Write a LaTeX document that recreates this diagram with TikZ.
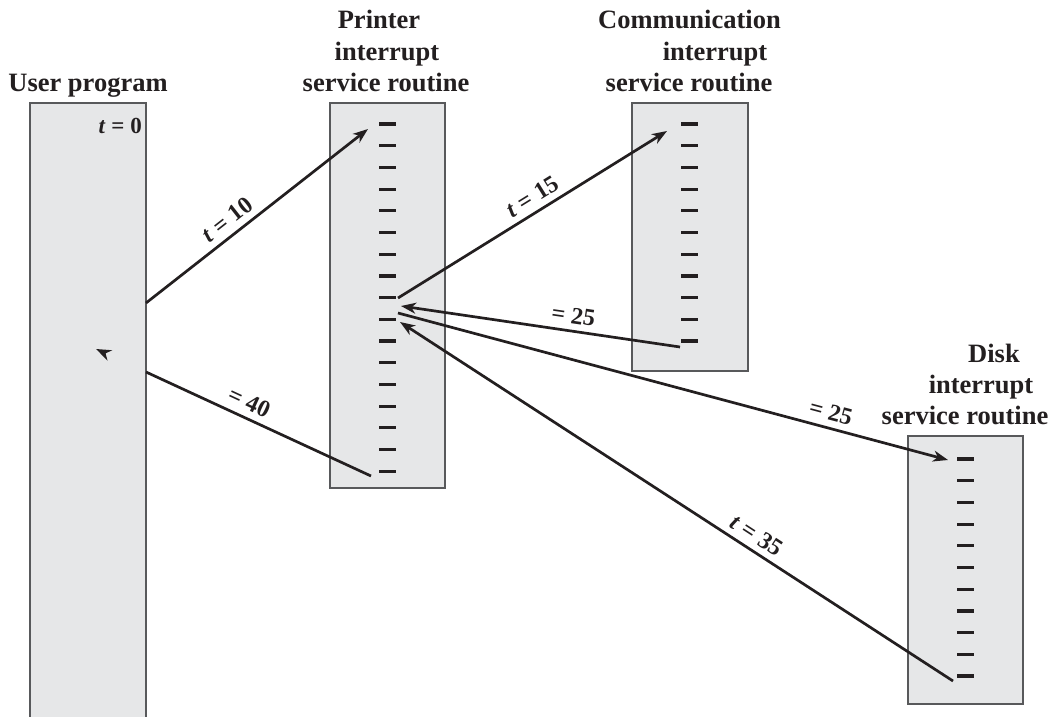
\documentclass[tikz,border=0pt]{standalone}
\usepackage{fontspec}
\setmainfont{Liberation Serif}
\usetikzlibrary{arrows.meta,calc}
\definecolor{ink}{HTML}{231F20}
\definecolor{boxfill}{HTML}{E6E7E8}
\definecolor{boxline}{HTML}{58595B}
\begin{document}
\begin{tikzpicture}[x=1pt,y=-1pt,
  boxst/.style={draw=boxline, fill=boxfill, line width=1.3pt},
  tick/.style={line width=3.2pt, draw=ink},
  conn/.style={line width=2.7pt, draw=ink},
  arr/.style={conn, -{Stealth[length=15pt,width=11pt,inset=4.5pt]}},
  title/.style={font=\fontsize{26.5}{30}\selectfont\bfseries, text=ink, inner sep=0pt, anchor=base},
  lab/.style={font=\fontsize{24}{26}\selectfont\bfseries, text=ink, sloped, above=3pt, inner sep=3pt}
]
\useasboundingbox (0,0) rectangle (1057,717);

% boxes
\fill[boxfill] (30,103) rectangle (146,717);
\draw[draw=boxline, line width=1.3pt] (30,717) -- (30,103) -- (146,103) -- (146,717);
\coordinate (user) at (88,103);
\draw[boxst] (330,103) rectangle (445,488);
\draw[boxst] (632,103) rectangle (748,371);
\draw[boxst] (908,436) rectangle (1023,704);

% ticks
\foreach \i in {0,...,16} \draw[tick] (379,124+21.7*\i) -- (396,124+21.7*\i);
\foreach \i in {0,...,10} \draw[tick] (681,124+21.7*\i) -- (698,124+21.7*\i);
\foreach \i in {0,...,10} \draw[tick] (957,459+21.7*\i) -- (974,459+21.7*\i);

% titles
\node[title] (tu) at (88,91) {User program};
\node[title] (tp1) at (379,29) {Printer};
\node[title] (tp2) at (387,61) {interrupt};
\node[title] (tp3) at (386,91) {service routine};
\node[title] (tc1) at (689.5,29) {Communication};
\node[title] (tc2) at (715,61) {interrupt};
\node[title] (tc3) at (689,91) {service routine};
\node[title] (td1) at (994,362) {Disk};
\node[title] (td2) at (981,393) {interrupt};
\node[title] (td3) at (965,424) {service routine};

\node[font=\fontsize{23}{25}\selectfont\bfseries, text=ink, inner sep=0pt, anchor=base east] (t0) at (142,133) {\textit{t} = 0};

% connector end points
\coordinate (u1) at (146,303);
\coordinate (p1) at (368,129);
\coordinate (p2) at (398,298);
\coordinate (c1) at (667,131);
\coordinate (c2) at (680,347);
\coordinate (p3) at (401,306);
\coordinate (p4) at (398,313);
\coordinate (d1) at (948,460);
\coordinate (d2) at (953,681);
\coordinate (p5) at (400,322);
\coordinate (p6) at (371,476);
\coordinate (u2) at (146,372);
\coordinate (utip) at (96,349);

% connectors
\draw[arr] (u1) -- node[lab, pos=0.41] {\textit{t} = 10} (p1);
\draw[arr] (p2) -- node[lab, pos=0.53] {\textit{t} = 15} (c1);
\draw[arr] (c2) -- node[lab, pos=0.39] {= 25} (p3);
\draw[arr] (p4) -- node[lab, pos=0.78] {= 25} (d1);
\draw[arr] (d2) -- node[lab, pos=0.37] {\textit{t} = 35} (p5);
\draw[conn] (p6) -- node[lab, pos=0.57] {= 40} (u2);
\draw[arr] ($(utip)!10.5pt!(u2)$) -- (utip);
\end{tikzpicture}
\end{document}
